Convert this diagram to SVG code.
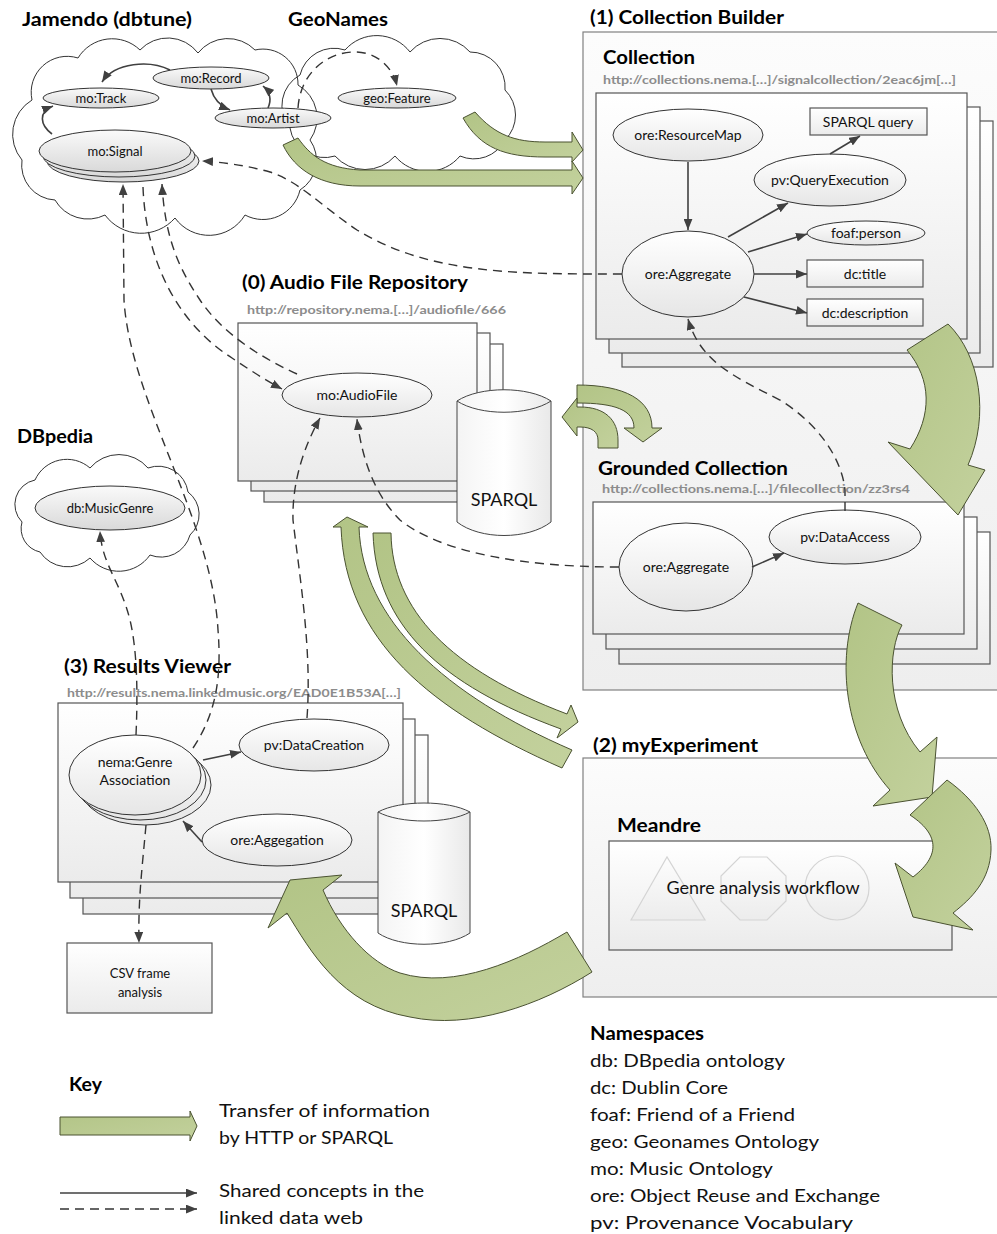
<svg xmlns="http://www.w3.org/2000/svg" width="997" height="1234" viewBox="0 0 997 1234">
<defs>
<linearGradient id="gBox" x1="0" y1="0" x2="0" y2="1"><stop offset="0" stop-color="#ffffff"/><stop offset="1" stop-color="#ebebeb"/></linearGradient>
<linearGradient id="gOuter" x1="0" y1="0" x2="0" y2="1"><stop offset="0" stop-color="#fcfcfc"/><stop offset="1" stop-color="#eeeeee"/></linearGradient>
<linearGradient id="gEll" x1="0" y1="0" x2="0" y2="1"><stop offset="0" stop-color="#ffffff"/><stop offset="1" stop-color="#e6e6e6"/></linearGradient>
<linearGradient id="gCEll" x1="0" y1="0" x2="0" y2="1"><stop offset="0" stop-color="#fafafa"/><stop offset="1" stop-color="#d9d9d9"/></linearGradient>
<linearGradient id="gCyl" x1="0" y1="0" x2="1" y2="0"><stop offset="0" stop-color="#f4f4f4"/><stop offset="0.5" stop-color="#ffffff"/><stop offset="1" stop-color="#e9e9e9"/></linearGradient>
<linearGradient id="gGreen" x1="0" y1="0" x2="1" y2="1"><stop offset="0" stop-color="#b2c486"/><stop offset="1" stop-color="#c3d19d"/></linearGradient>
<linearGradient id="gShape" x1="0" y1="0" x2="0" y2="1"><stop offset="0" stop-color="#fdfdfd"/><stop offset="1" stop-color="#ececec"/></linearGradient>
<marker id="ah" viewBox="0 0 10 8" refX="10" refY="4" markerWidth="11" markerHeight="9" markerUnits="userSpaceOnUse" orient="auto"><path d="M0,0 L10,4 L0,8 z" fill="#404040"/></marker>
<style>
.title{font-family:Lato,"Open Sans","Liberation Sans",sans-serif;font-weight:bold;font-size:19px;fill:#000}
.url{font-family:Lato,"Open Sans","Liberation Sans",sans-serif;font-weight:bold;font-size:12px;fill:#8c8c8c}
.lbl{font-family:Lato,"Open Sans","Liberation Sans",sans-serif;font-size:14px;fill:#111;text-anchor:middle}
.sm{font-size:13px}
.big{font-family:Lato,"Open Sans","Liberation Sans",sans-serif;font-size:18px;fill:#111}
.box{fill:url(#gBox);stroke:#555;stroke-width:1.2}
.outer{fill:url(#gOuter);stroke:#808080;stroke-width:1.2}
.ell{fill:url(#gEll);stroke:#333;stroke-width:1}
.cell{fill:url(#gCEll);stroke:#333;stroke-width:1}
.cloudf{fill:#fff;stroke:none}
.clouds{fill:none;stroke:#333;stroke-width:1}
.cyl{fill:url(#gCyl);stroke:#444;stroke-width:1}
.c{fill:none;stroke:#404040;stroke-width:1.6;marker-end:url(#ah)}
.d{fill:none;stroke:#333;stroke-width:1.4;stroke-dasharray:9,6}
.da{marker-end:url(#ah)}
.green{fill:url(#gGreen);stroke:#4a5231;stroke-width:1}
.shape{fill:url(#gShape);stroke:#d4d4d4;stroke-width:1.2}
</style>
</defs>
<rect x="0" y="0" width="997" height="1234" fill="#fff"/>

<!-- clouds -->
<g id="cloud-jamendo">
<path class="cloudf" d="M22,160 A40,40 0 0 1 32,100 A36,36 0 0 1 78,58 A40,40 0 0 1 140,50 A38,38 0 0 1 198,53 A38,38 0 0 1 255,50 A35,35 0 0 1 298,85 A38,38 0 0 1 310,140 A35,35 0 0 1 300,190 A38,38 0 0 1 245,215 A42,42 0 0 1 175,218 A45,45 0 0 1 105,215 A38,38 0 0 1 55,200 A35,35 0 0 1 22,160 Z"/>
</g>
<g id="cloud-geonames">
<path class="cloudf" d="M290,128 A35,35 0 0 1 300,75 A35,35 0 0 1 345,50 A42,42 0 0 1 410,52 A40,40 0 0 1 470,52 A35,35 0 0 1 505,90 A35,35 0 0 1 505,140 A35,35 0 0 1 460,156 A42,42 0 0 1 395,156 A40,40 0 0 1 335,156 A35,35 0 0 1 290,128 Z"/>
</g>
<path class="clouds" d="M22,160 A40,40 0 0 1 32,100 A36,36 0 0 1 78,58 A40,40 0 0 1 140,50 A38,38 0 0 1 198,53 A38,38 0 0 1 255,50 A35,35 0 0 1 298,85 A38,38 0 0 1 310,140 A35,35 0 0 1 300,190 A38,38 0 0 1 245,215 A42,42 0 0 1 175,218 A45,45 0 0 1 105,215 A38,38 0 0 1 55,200 A35,35 0 0 1 22,160 Z"/>
<path class="clouds" d="M290,128 A35,35 0 0 1 300,75 A35,35 0 0 1 345,50 A42,42 0 0 1 410,52 A40,40 0 0 1 470,52 A35,35 0 0 1 505,90 A35,35 0 0 1 505,140 A35,35 0 0 1 460,156 A42,42 0 0 1 395,156 A40,40 0 0 1 335,156 A35,35 0 0 1 290,128 Z"/>
<g id="cloud-dbpedia">
<path fill="#fff" stroke="#333" stroke-width="1" d="M22,522 A25,25 0 0 1 35,480 A35,35 0 0 1 90,468 A38,38 0 0 1 148,468 A30,30 0 0 1 188,492 A28,28 0 0 1 190,535 A30,30 0 0 1 150,555 A38,38 0 0 1 90,558 A33,33 0 0 1 40,552 A24,24 0 0 1 22,522 Z"/>
</g>

<!-- outer boxes -->
<g id="collection-builder"><rect class="outer" x="583" y="32" width="420" height="658"/></g>
<g id="myexperiment"><rect class="outer" x="583" y="758" width="420" height="239"/></g>

<!-- stacks -->
<g id="collection-stack">
<rect class="box" x="622" y="121" width="371" height="246"/>
<rect class="box" x="609" y="107" width="371" height="246"/>
<rect class="box" x="596" y="93" width="371" height="246"/>
</g>
<g id="grounded-stack">
<rect class="box" x="619" y="532" width="371" height="132"/>
<rect class="box" x="606" y="517" width="371" height="132"/>
<rect class="box" x="593" y="502" width="371" height="132"/>
</g>
<g id="audio-stack">
<rect class="box" x="264" y="344" width="239" height="158"/>
<rect class="box" x="251" y="333" width="239" height="158"/>
<rect class="box" x="238" y="323" width="239" height="158"/>
</g>
<g id="results-stack">
<rect class="box" x="83" y="735" width="345" height="179"/>
<rect class="box" x="70" y="719" width="345" height="179"/>
<rect class="box" x="58" y="703" width="345" height="179"/>
</g>
<g id="meandre">
<rect class="box" x="609" y="841" width="343" height="109"/>
<path class="shape" d="M631,920 L667,857 L705,920 Z"/>
<path class="shape" d="M740,857 L767,857 L786,876 L786,901 L767,920 L740,920 L721,901 L721,876 Z"/>
<circle class="shape" cx="837" cy="888" r="32"/>
<text class="big" x="763" y="894" text-anchor="middle" font-size="17">Genre analysis workflow</text>
</g>

<!-- Jamendo nodes -->
<g id="mo-track"><ellipse class="cell" cx="101" cy="98" rx="58" ry="10"/><text class="lbl sm" x="101" y="103">mo:Track</text></g>
<g id="mo-record"><ellipse class="cell" cx="211" cy="78" rx="58" ry="11"/><text class="lbl sm" x="211" y="83">mo:Record</text></g>
<g id="mo-artist"><ellipse class="cell" cx="273" cy="118" rx="58" ry="10"/><text class="lbl sm" x="273" y="123">mo:Artist</text></g>
<g id="mo-signal">
<ellipse class="cell" cx="123" cy="161" rx="76" ry="21"/>
<ellipse class="cell" cx="119" cy="156" rx="76" ry="21"/>
<ellipse class="cell" cx="115" cy="151" rx="76" ry="21"/>
<text class="lbl sm" x="115" y="156">mo:Signal</text></g>
<g id="geo-feature"><ellipse class="cell" cx="397" cy="98" rx="59" ry="10"/><text class="lbl sm" x="397" y="103">geo:Feature</text></g>
<g id="db-musicgenre"><ellipse class="cell" cx="110" cy="508" rx="75" ry="22"/><text class="lbl sm" x="110" y="513">db:MusicGenre</text></g>

<!-- Collection nodes -->
<g id="ore-resourcemap"><ellipse class="ell" cx="688" cy="135" rx="75" ry="26"/><text class="lbl" x="688" y="140">ore:ResourceMap</text></g>
<g id="sparql-query"><rect class="box" x="810" y="108" width="117" height="27"/><text class="lbl" x="868" y="127">SPARQL query</text></g>
<g id="pv-queryexecution"><ellipse class="ell" cx="830" cy="180" rx="76" ry="26"/><text class="lbl" x="830" y="185">pv:QueryExecution</text></g>
<g id="foaf-person"><ellipse class="ell" cx="866" cy="233" rx="59" ry="12"/><text class="lbl" x="866" y="238">foaf:person</text></g>
<g id="dc-title"><rect class="box" x="807" y="260" width="116" height="27"/><text class="lbl" x="865" y="279">dc:title</text></g>
<g id="dc-description"><rect class="box" x="807" y="299" width="116" height="27"/><text class="lbl" x="865" y="318">dc:description</text></g>
<g id="ore-aggregate-1"><ellipse class="ell" cx="688" cy="274" rx="66" ry="43"/><text class="lbl" x="688" y="279">ore:Aggregate</text></g>

<!-- Grounded nodes -->
<g id="ore-aggregate-2"><ellipse class="ell" cx="686" cy="567" rx="67" ry="44"/><text class="lbl" x="686" y="572">ore:Aggregate</text></g>
<g id="pv-dataaccess"><ellipse class="ell" cx="845" cy="537" rx="76" ry="27"/><text class="lbl" x="845" y="542">pv:DataAccess</text></g>

<!-- Audio nodes -->
<g id="mo-audiofile"><ellipse class="ell" cx="357" cy="395" rx="75" ry="22"/><text class="lbl" x="357" y="400">mo:AudioFile</text></g>
<g id="sparql-audio">
<path class="cyl" d="M457,401 C480,386 528,386 551,401 L551,522 C528,540 480,540 457,522 Z"/>
<path fill="none" stroke="#444" d="M457,401 C480,416 528,416 551,401"/>
<text class="big" x="504" y="506" text-anchor="middle" font-size="17">SPARQL</text></g>

<!-- Results nodes -->
<g id="nema-genre-association">
<ellipse class="ell" cx="145" cy="785" rx="66" ry="40"/>
<ellipse class="ell" cx="140" cy="780" rx="66" ry="40"/>
<ellipse class="ell" cx="135" cy="775" rx="66" ry="40"/>
<text class="lbl" x="135" y="767">nema:Genre</text><text class="lbl" x="135" y="785">Association</text></g>
<g id="pv-datacreation"><ellipse class="ell" cx="314" cy="745" rx="75" ry="26"/><text class="lbl" x="314" y="750">pv:DataCreation</text></g>
<g id="ore-aggegation"><ellipse class="ell" cx="277" cy="840" rx="75" ry="26"/><text class="lbl" x="277" y="845">ore:Aggegation</text></g>
<g id="sparql-results">
<path class="cyl" d="M378,812 C400,800 448,800 470,812 L470,933 C448,948 400,948 378,933 Z"/>
<path fill="none" stroke="#444" d="M378,812 C400,824 448,824 470,812"/>
<text class="big" x="424" y="917" text-anchor="middle" font-size="17">SPARQL</text></g>
<g id="csv-frame"><rect class="box" x="67" y="943" width="145" height="70"/><text class="lbl sm" x="140" y="978">CSV frame</text><text class="lbl sm" x="140" y="997">analysis</text></g>

<!-- titles -->
<g id="titles">
<text class="title" x="22" y="26" textLength="170" lengthAdjust="spacingAndGlyphs">Jamendo (dbtune)</text>
<text class="title" x="288" y="26" textLength="100" lengthAdjust="spacingAndGlyphs">GeoNames</text>
<text class="title" x="590" y="24" textLength="194" lengthAdjust="spacingAndGlyphs">(1) Collection Builder</text>
<text class="title" x="603" y="64" textLength="92" lengthAdjust="spacingAndGlyphs">Collection</text>
<text class="url" x="603" y="84" textLength="353" lengthAdjust="spacingAndGlyphs">http://collections.nema.[…]/signalcollection/2eac6jm[…]</text>
<text class="title" x="242" y="289" textLength="226" lengthAdjust="spacingAndGlyphs">(0) Audio File Repository</text>
<text class="url" x="247" y="314" textLength="259" lengthAdjust="spacingAndGlyphs">http://repository.nema.[…]/audiofile/666</text>
<text class="title" x="17" y="443" textLength="76" lengthAdjust="spacingAndGlyphs">DBpedia</text>
<text class="title" x="598" y="475" textLength="190" lengthAdjust="spacingAndGlyphs">Grounded Collection</text>
<text class="url" x="602" y="493" textLength="308" lengthAdjust="spacingAndGlyphs">http://collections.nema.[…]/filecollection/zz3rs4</text>
<text class="title" x="64" y="673" textLength="167" lengthAdjust="spacingAndGlyphs">(3) Results Viewer</text>
<text class="url" x="67" y="697" textLength="334" lengthAdjust="spacingAndGlyphs">http://results.nema.linkedmusic.org/EAD0E1B53A[…]</text>
<text class="title" x="593" y="752" textLength="165" lengthAdjust="spacingAndGlyphs">(2) myExperiment</text>
<text class="title" x="617" y="832" textLength="84" lengthAdjust="spacingAndGlyphs">Meandre</text>
</g>

<!-- connectors -->
<g id="connectors">
<path class="c" d="M170,70 C150,60 115,62 102,82"/>
<path class="c" d="M211,89 C214,100 220,106 230,110"/>
<path class="c" d="M268,108 C272,99 270,92 263,86"/>
<path class="c" d="M52,134 C40,125 38,112 53,106"/>
<path class="d da" d="M298,108 C300,75 325,52 355,52 C375,52 392,65 397,86"/>
<path class="d da" d="M622,274 C520,274 430,275 357,230 C320,205 300,182 270,172 C245,165 220,162 202,161"/>
<path class="d da" d="M619,567 C520,567 440,552 400,520 C375,495 362,460 357,419"/>
<path class="d da" d="M845,511 L845,490 C842,460 820,425 780,400 C730,375 700,360 688,319"/>
<path class="d da" d="M297,374 C255,355 220,330 200,300 C180,270 165,240 162,184"/>
<path class="d da" d="M143,187 C146,265 180,325 232,358 C250,370 265,380 282,389"/>
<path class="d da" d="M193,748 C215,715 222,680 218,630 C212,520 130,400 124,300 L123,184"/>
<path class="d da" d="M136,735 C138,690 137,650 130,620 C120,580 102,565 100,531"/>
<path class="d da" d="M307,718 C312,650 300,580 293,520 C292,480 305,445 320,418"/>
<path class="d da" d="M146,825 C142,870 138,900 139,943"/>
<path class="c" d="M688,162 L688,230"/>
<path class="c" d="M728,237 L788,203"/>
<path class="c" d="M830,154 L860,136"/>
<path class="c" d="M748,252 L807,234"/>
<path class="c" d="M754,274 L807,274"/>
<path class="c" d="M744,297 L807,313"/>
<path class="c" d="M752,567 L784,553"/>
<path class="c" d="M203,760 L241,752"/>
<path class="c" d="M202,842 L183,821"/>
</g>

<!-- transfer arrows -->
<g id="transfers">
<path class="green" d="M463,118 L475,112 C495,135 515,142 545,142 L572,142 L572,132 L583,150 L572,162 L572,157 L545,157 C505,157 480,148 463,118 Z"/>
<path class="green" d="M283,145 L298,138 C310,155 325,168 360,170 L572,170 L572,161 L583,178 L572,194 L572,186 L360,186 C320,186 295,170 283,145 Z"/>
<path class="green" d="M907,350 L948,324 C980,355 990,415 968,465 L985,470 L958,515 L888,442 L910,449 C932,415 932,380 907,350 Z"/>
<path class="green" d="M858,603 L902,625 C888,650 885,710 920,752 L937,737 L932,797 L873,806 L890,790 C845,740 835,660 858,603 Z"/>
<path class="green" d="M910,815 L947,780 C975,800 992,825 991,850 C990,880 972,898 953,913 L973,930 L913,917 L895,863 L913,877 C935,860 945,838 910,815 Z"/>
<path class="green" d="M577,385 C625,385 652,400 652,428 L662,428 L643,442 L624,428 L634,428 C634,410 615,403 577,403 Z"/>
<path class="green" d="M598,448 L618,448 L618,440 C618,420 605,407 580,407 L577,407 L577,398 L562,417 L577,436 L577,427 L580,427 C592,427 598,432 598,440 Z"/>
<path class="green" d="M341,527 L333,527 L347,517 L368,527 L359,527 C362,620 445,695 572,750 L562,768 C430,710 345,640 341,527 Z"/>
<path class="green" d="M373,533 L391,533 C392,610 450,670 567,714 L571,705 L578,722 L557,738 L561,729 C440,685 376,625 373,533 Z"/>
<path class="green" d="M567,932 C520,960 455,990 400,973 C370,963 340,930 323,890 L342,875 L290,880 L268,928 L287,913 C310,950 340,1005 410,1017 C470,1030 540,1005 592,972 Z"/>
</g>

<!-- key -->
<g id="key">
<text class="title" x="69" y="1091" font-size="17" textLength="33" lengthAdjust="spacingAndGlyphs">Key</text>
<path class="green" d="M60,1117 L190,1117 L190,1111 L197,1126 L190,1141 L190,1135 L60,1135 Z"/>
<path class="c" d="M60,1193 L197,1193"/>
<path class="d da" d="M60,1209 L197,1209"/>
<text class="big" x="219" y="1117" textLength="211" lengthAdjust="spacingAndGlyphs">Transfer of information</text>
<text class="big" x="219" y="1144" textLength="174" lengthAdjust="spacingAndGlyphs">by HTTP or SPARQL</text>
<text class="big" x="219" y="1197" textLength="205" lengthAdjust="spacingAndGlyphs">Shared concepts in the</text>
<text class="big" x="219" y="1224" textLength="144" lengthAdjust="spacingAndGlyphs">linked data web</text>
</g>

<!-- namespaces -->
<g id="namespaces">
<text class="title" x="590" y="1040" font-size="17" textLength="114" lengthAdjust="spacingAndGlyphs">Namespaces</text>
<text class="big" x="590" y="1067" textLength="195" lengthAdjust="spacingAndGlyphs">db: DBpedia ontology</text>
<text class="big" x="590" y="1094" textLength="138" lengthAdjust="spacingAndGlyphs">dc: Dublin Core</text>
<text class="big" x="590" y="1121" textLength="205" lengthAdjust="spacingAndGlyphs">foaf: Friend of a Friend</text>
<text class="big" x="590" y="1148" textLength="229" lengthAdjust="spacingAndGlyphs">geo: Geonames Ontology</text>
<text class="big" x="590" y="1175" textLength="183" lengthAdjust="spacingAndGlyphs">mo: Music Ontology</text>
<text class="big" x="590" y="1202" textLength="290" lengthAdjust="spacingAndGlyphs">ore: Object Reuse and Exchange</text>
<text class="big" x="590" y="1229" textLength="263" lengthAdjust="spacingAndGlyphs">pv: Provenance Vocabulary</text>
</g>
</svg>
